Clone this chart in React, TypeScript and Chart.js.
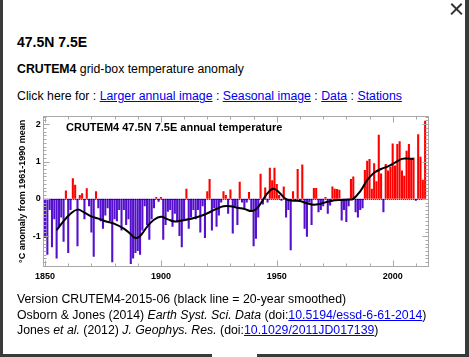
import React, { useEffect, useRef } from 'react';
import { Chart, registerables } from 'chart.js';

Chart.register(...registerables);

// ---------- data ----------
const FIRST_YEAR = 1850;
const anomalies: number[] = [
  // 1850s
  -1.05, -1.5, -0.3, -1.3, -0.55, -1.6, -0.75, -0.5, -1.15, 0.22,
  // 1860s
  -1.45, -0.3, 0.55, 0.38, -1.27, 0.1, 0.15, -0.55, 0.28, -0.2,
  // 1870s
  -0.9, -1.55, 0.2, -0.25, -0.6, -0.8, -0.45, -0.25, -0.6, -1.7,
  // 1880s
  -0.55, -0.6, -0.3, -0.85, -0.3, -0.7, -0.55, -1.75, -1.6, -1.45,
  // 1890s
  -1.4, -1.5, -0.85, -0.2, -0.7, -1.1, -0.55, -0.25, 0.05, -0.08,
  // 1900s
  0.05, -1.1, -0.7, -0.35, -0.3, -0.75, -0.4, -0.6, -1.0, -1.3,
  // 1910s
  -0.6, 0.27, -0.8, -0.5, -0.3, -0.55, -0.3, -0.9, -0.2, -1.05,
  // 1920s
  0.2, 0.53, -0.85, -0.25, -0.75, -0.45, -0.1, 0.2, 0.1, -0.4,
  // 1930s
  0.25, -0.93, -0.2, -0.7, 0.46, -0.1, -0.3, -0.1, 0.18, -0.35,
  // 1940s
  -1.27, -1.07, -0.5, 0.67, -0.15, 0.3, -0.1, 0.83, 0.5, 0.83,
  // 1950s
  0.4, 0.1, -0.05, 0.33, -0.5, -0.3, -1.38, 0.2, -0.05, 0.8,
  // 1960s
  -0.05, 0.92, -0.8, -1.02, -0.1, -0.7, 0.29, 0.29, -0.36, -0.3,
  // 1970s
  -0.2, 0.05, -0.4, -0.18, 0.33, 0.27, 0.26, 0.24, -0.58, -0.3,
  // 1980s
  -0.62, -0.2, 0.53, 0.6, -0.36, -0.5, -0.3, -0.25, 0.77, 1.02,
  // 1990s
  1.07, 0.27, 0.95, 0.47, 1.72, 0.68, -0.36, 0.93, 0.76, 0.86,
  // 2000s
  1.48, 0.89, 1.47, 1.54, 0.76, 0.62, 1.29, 1.47, 1.09, 1.11,
  // 2010s
  -0.05, 1.73, 1.13, 0.51, 2.09,
];

const smoothYears: number[] = [
  1855, 1858, 1861, 1864, 1867, 1870, 1873, 1876, 1880, 1884, 1887, 1889, 1891,
  1894, 1897, 1900, 1903, 1906, 1909, 1912, 1915, 1918, 1921, 1924, 1927, 1930,
  1933, 1936, 1939, 1941, 1943, 1946, 1948.5, 1951, 1954, 1957, 1960, 1963, 1966,
  1969, 1972, 1975, 1978, 1981, 1983, 1986, 1989, 1992, 1995, 1998, 2001, 2004,
  2006, 2009,
];
const smoothValues: number[] = [
  -0.84, -0.6, -0.4, -0.29, -0.37, -0.47, -0.53, -0.6, -0.67, -0.8, -0.95, -1.05, -1.0,
  -0.75, -0.56, -0.48, -0.55, -0.61, -0.58, -0.55, -0.5, -0.44, -0.36, -0.27, -0.2, -0.2,
  -0.24, -0.27, -0.33, -0.28, -0.13, 0.15, 0.27, 0.17, -0.01, -0.05, -0.06, -0.12, -0.16,
  -0.13, -0.08, -0.04, -0.03, -0.02, 0.0, 0.2, 0.5, 0.7, 0.8, 0.87, 0.97, 1.07,
  1.08, 1.07,
];

const xTickLabels: number[] = [1850, 1900, 1950, 2000];
const yTickLabels: number[] = [-1, 0, 1, 2];

// ---------- styling ----------
const RED = '#ff0000';
const BLUE = '#5510cc';
const AXIS_GREY = '#a8a8a8';
const FONT = '"Liberation Sans", Arial, Helvetica, sans-serif';

const axesFramePlugin = {
  id: 'axesFrame',
  afterDatasetsDraw(chart: any) {
    const { ctx, chartArea: a, scales } = chart;
    const xs = scales.x;
    const ys = scales.y;
    ctx.save();
    // dotted zero line
    const y0 = Math.round(ys.getPixelForValue(0)) + 0.5;
    ctx.strokeStyle = '#000';
    ctx.lineWidth = 1;
    ctx.setLineDash([1, 1]);
    ctx.beginPath();
    ctx.moveTo(a.left, y0);
    ctx.lineTo(a.right, y0);
    ctx.stroke();
    ctx.setLineDash([]);

    // frame
    ctx.strokeStyle = AXIS_GREY;
    ctx.lineWidth = 1;
    const L = Math.round(a.left) + 0.5;
    const R = Math.round(a.right) - 0.5;
    const T = Math.round(a.top) + 0.5;
    const B = Math.round(a.bottom) - 0.5;
    ctx.strokeRect(L, T, R - L, B - T);

    ctx.beginPath();
    // y minor/major ticks every 0.1
    for (let t = Math.ceil(ys.min * 10); t <= Math.floor(ys.max * 10); t++) {
      const py = Math.round(ys.getPixelForValue(t / 10)) + 0.5;
      const len = t % 10 === 0 ? 6 : 3;
      ctx.moveTo(L, py);
      ctx.lineTo(L + len, py);
      ctx.moveTo(R, py);
      ctx.lineTo(R - len, py);
    }
    // x ticks every 10 years
    for (let yr = 1850; yr <= xs.max; yr += 10) {
      const px = Math.round(xs.getPixelForValue(yr)) + 0.5;
      const len = yr % 50 === 0 ? 6 : 3;
      ctx.moveTo(px, B);
      ctx.lineTo(px, B - len);
      ctx.moveTo(px, T);
      ctx.lineTo(px, T + len);
    }
    ctx.stroke();
    ctx.restore();
  },
};

export default function App() {
  const ref = useRef<HTMLCanvasElement>(null);

  useEffect(() => {
    if (!ref.current) return;
    const barData = anomalies.map((v, i) => ({ x: FIRST_YEAR + i, y: v }));
    const lineData = smoothYears.map((yr, i) => ({ x: yr, y: smoothValues[i] }));
    const tickFont = { family: FONT, size: 9, weight: 'bold' as const, lineHeight: 1.2 };

    const chart = new Chart(ref.current, {
      type: 'bar',
      data: {
        datasets: [
          {
            type: 'line',
            data: lineData,
            borderColor: '#000',
            borderWidth: 2,
            pointRadius: 0,
            tension: 0.4,
            order: 0,
          } as any,
          {
            type: 'bar',
            data: barData,
            backgroundColor: anomalies.map((v) => (v >= 0 ? RED : BLUE)),
            borderWidth: 0,
            barPercentage: 0.9,
            categoryPercentage: 1,
            order: 1,
          } as any,
        ],
      },
      options: {
        animation: false,
        responsive: false,
        devicePixelRatio: 1,
        events: [],
        layout: { padding: { left: 17.6, top: 116, right: 39.7, bottom: 70.3 } },
        plugins: {
          legend: { display: false },
          tooltip: { enabled: false },
          title: { display: false },
        },
        scales: {
          x: {
            type: 'linear',
            min: 1849.25,
            max: 2015.8,
            offset: false,
            grid: { display: false, drawTicks: false },
            border: { display: false },
            ticks: {
              font: tickFont,
              color: '#000',
              padding: 4,
              maxRotation: 0,
              autoSkip: false,
              callback: (v: any) => String(v),
            },
            afterBuildTicks: (s: any) => {
              s.ticks = xTickLabels.map((v) => ({ value: v }));
            },
            afterFit: (s: any) => {
              s.height = 20;
            },
          },
          y: {
            type: 'linear',
            min: -1.82,
            max: 2.22,
            grid: { display: false, drawTicks: false },
            border: { display: false },
            ticks: {
              font: tickFont,
              color: '#000',
              padding: 2.6,
              autoSkip: false,
              callback: (v: any) => String(v),
            },
            title: {
              display: true,
              text: '°C anomaly from 1961-1990 mean',
              font: { family: FONT, size: 9, weight: 'bold', lineHeight: 1.2 },
              color: '#000',
              padding: 0,
            },
            afterBuildTicks: (s: any) => {
              s.ticks = yTickLabels.map((v) => ({ value: v }));
            },
            afterFit: (s: any) => {
              s.width = 25.7;
            },
          },
        },
      } as any,
      plugins: [axesFramePlugin],
    });
    return () => chart.destroy();
  }, []);

  const body: React.CSSProperties = {
    position: 'absolute',
    left: 17,
    fontSize: 12.3,
    lineHeight: '15px',
    color: '#000',
    whiteSpace: 'nowrap',
  };
  const link: React.CSSProperties = { color: '#0000ee', textDecoration: 'underline' };

  return (
    <div
      style={{
        position: 'fixed',
        left: 0,
        top: 0,
        width: 469,
        height: 357,
        background: '#3a3a3a',
        overflow: 'hidden',
        fontFamily: FONT,
      }}
    >
      <div style={{ position: 'absolute', left: 3, top: 0, width: 462, height: 354, background: '#fff' }} />
      <div style={{ position: 'absolute', left: 212, top: 353, width: 45, height: 4, background: '#fff' }} />
      {/* close X */}
      <div style={{ position: 'absolute', left: 449, top: 8.4, width: 15, height: 2.3, background: '#333', transform: 'rotate(45deg)' }} />
      <div style={{ position: 'absolute', left: 449, top: 8.4, width: 15, height: 2.3, background: '#333', transform: 'rotate(-45deg)' }} />

      <div style={{ ...body, top: 34, fontSize: 14, lineHeight: '16px', fontWeight: 'bold' }}>47.5N 7.5E</div>
      <div style={{ ...body, top: 62.3 }}>
        <b>CRUTEM4</b> grid-box temperature anomaly
      </div>
      <div style={{ ...body, top: 89.3 }}>
        Click here for : <span style={link}>Larger annual image</span> : <span style={link}>Seasonal image</span> :{' '}
        <span style={link}>Data</span> : <span style={link}>Stations</span>
      </div>

      <canvas
        ref={ref}
        width={469}
        height={357}
        style={{ position: 'absolute', left: 0, top: 0, width: 469, height: 357 }}
      />
      <div
        style={{
          position: 'absolute',
          left: 66,
          top: 120.9,
          fontSize: 11,
          lineHeight: '13px',
          fontWeight: 'bold',
          color: '#000',
          whiteSpace: 'nowrap',
        }}
      >
        CRUTEM4 47.5N 7.5E annual temperature
      </div>

      <div style={{ ...body, top: 292.3 }}>Version CRUTEM4-2015-06 (black line = 20-year smoothed)</div>
      <div style={{ ...body, top: 308.3 }}>
        Osborn &amp; Jones (2014) <i>Earth Syst. Sci. Data</i> (doi:<span style={link}>10.5194/essd-6-61-2014</span>)
      </div>
      <div style={{ ...body, top: 323.3 }}>
        Jones <i>et al.</i> (2012) <i>J. Geophys. Res.</i> (doi:<span style={link}>10.1029/2011JD017139</span>)
      </div>
    </div>
  );
}
